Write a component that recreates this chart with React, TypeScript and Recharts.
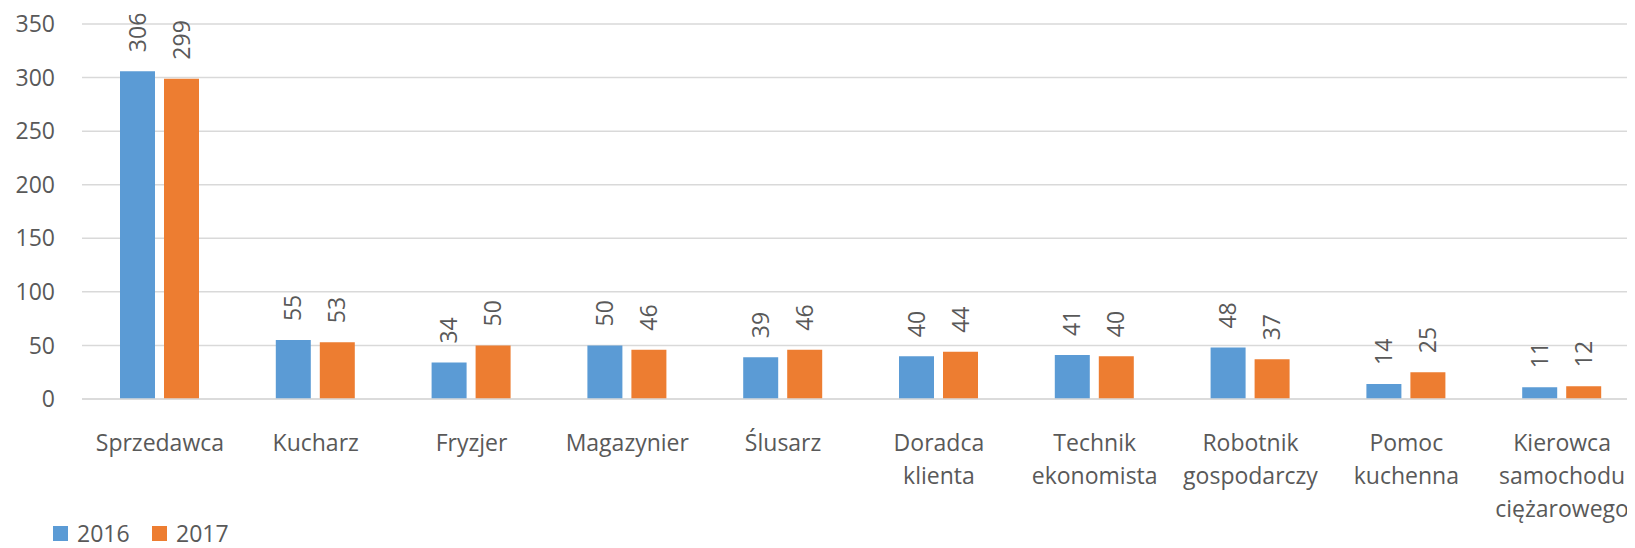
import React from "react";
import { BarChart, Bar, XAxis, YAxis, CartesianGrid, Legend, LabelList } from "recharts";

const categories = [
  "Sprzedawca",
  "Kucharz",
  "Fryzjer",
  "Magazynier",
  "Ślusarz",
  "Doradca\nklienta",
  "Technik\nekonomista",
  "Robotnik\ngospodarczy",
  "Pomoc\nkuchenna",
  "Kierowca\nsamochodu\nciężarowego",
];
const values2016 = [306, 55, 34, 50, 39, 40, 41, 48, 14, 11];
const values2017 = [299, 53, 50, 46, 46, 44, 40, 37, 25, 12];
const yTicks = [0, 50, 100, 150, 200, 250, 300, 350];
const seriesNames = ["2016", "2017"];
const seriesColors = ["#5B9BD5", "#ED7D31"];

const data = categories.map((c, i) => ({ name: c, v2016: values2016[i], v2017: values2017[i] }));

const FONT = "'Open Sans', sans-serif";
const TEXT = "#595959";
const FS = 23;

const CatTick = (props: any) => {
  const { x, y, payload } = props;
  const lines = String(payload.value).split("\n");
  return (
    <text x={x} y={y} textAnchor="middle" fill={TEXT} fontFamily={FONT} fontSize={FS}>
      {lines.map((l: string, i: number) => (
        <tspan key={i} x={x} y={y + 44 + i * 33}>
          {l}
        </tspan>
      ))}
    </text>
  );
};

const RotLabel = (props: any) => {
  const { x, y, width, value } = props;
  const cx = x + width / 2;
  const ty = y - 19;
  return (
    <text
      x={cx}
      y={ty}
      dy="0.35em"
      transform={`rotate(-90 ${cx} ${ty})`}
      textAnchor="start"
      fill={TEXT}
      fontFamily={FONT}
      fontSize={FS}
    >
      {value}
    </text>
  );
};

const LegendContent = () => (
  <div style={{ height: 22, position: "relative", fontFamily: FONT, fontSize: FS, color: TEXT }}>
    {seriesNames.map((n, i) => (
      <div
        key={n}
        style={{ position: "absolute", left: 45 + i * 99, top: 0, display: "flex", alignItems: "center", height: 22 }}
      >
        <span style={{ display: "inline-block", width: 15, height: 15, background: seriesColors[i], marginRight: 9 }} />
        <span style={{ lineHeight: "22px" }}>{n}</span>
      </div>
    ))}
  </div>
);

export default function App() {
  return (
    <div style={{ width: 1627, height: 540, overflow: "hidden" }}>
      <BarChart
        width={1632}
        height={540}
        data={data}
        margin={{ top: 16, right: 0, bottom: 4, left: 0 }}
        barGap={9}
        barSize={35}
      >
        <CartesianGrid vertical={false} stroke="#D9D9D9" strokeWidth={1.5} />
        <XAxis
          dataKey="name"
          interval={0}
          tick={<CatTick />}
          tickLine={false}
          axisLine={{ stroke: "#D9D9D9", strokeWidth: 1.5 }}
          height={123}
        />
        <YAxis
          domain={[0, 350]}
          ticks={yTicks}
          width={74}
          tickLine={false}
          axisLine={false}
          tickSize={6}
          tickMargin={21}
          tick={{ fill: TEXT, fontFamily: FONT, fontSize: FS }}
        />
        <Legend verticalAlign="bottom" align="left" content={<LegendContent />} />
        <Bar dataKey="v2016" name={seriesNames[0]} fill={seriesColors[0]} isAnimationActive={false}>
          <LabelList dataKey="v2016" content={<RotLabel />} />
        </Bar>
        <Bar dataKey="v2017" name={seriesNames[1]} fill={seriesColors[1]} isAnimationActive={false}>
          <LabelList dataKey="v2017" content={<RotLabel />} />
        </Bar>
      </BarChart>
    </div>
  );
}
